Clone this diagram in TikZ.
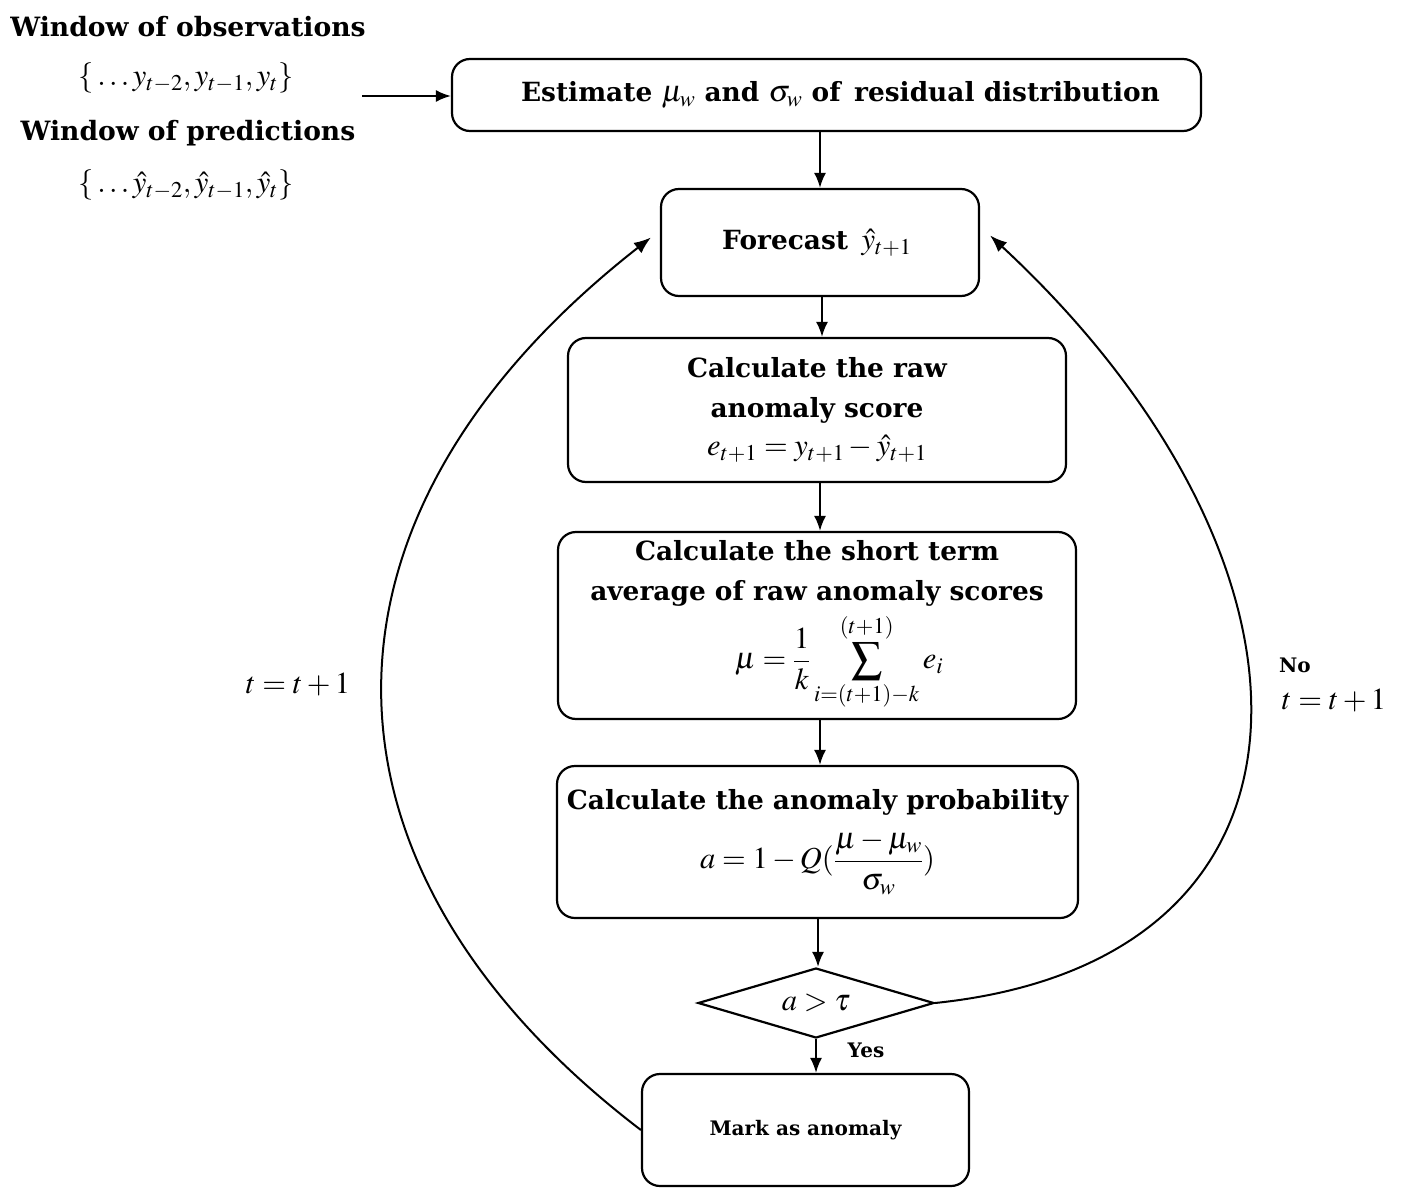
\documentclass[tikz,border=0pt]{standalone}
\usepackage{mathptmx}
\usepackage{fontspec}
\setmainfont{DejaVu Serif}
\usetikzlibrary{shapes.geometric,arrows.meta,calc}
\newcommand{\mfs}{\fontsize{30.5}{36}\selectfont}
\begin{document}
\begin{tikzpicture}[x=1pt,y=-1pt,
  box/.style={draw, line width=2.2pt, rounded corners=18pt, inner sep=0pt, align=center,
    font=\bfseries\fontsize{26.4}{40}\selectfont},
  lbl/.style={inner sep=0pt, align=center, font=\bfseries\fontsize{26.6}{40}\selectfont},
  mth/.style={inner sep=0pt, font=\mfs},
  small/.style={inner sep=0pt, font=\bfseries\fontsize{20}{28}\selectfont},
  arr/.style={-{Latex[length=15pt,width=12pt]}, line width=2pt},
  loop/.style={-{Latex[length=17pt,width=13pt]}, line width=2pt}]
\useasboundingbox (0,0) rectangle (1422,1204);

\node[lbl] (wo) at (188,27) {Window of observations};
\node[mth] (yo) at (186,78) {$\{\,.\,.\,.\,y_{t-2}, y_{t-1}, y_t\}$};
\node[lbl] (wp) at (188,133) {Window of predictions};
\node[mth] (yp) at (186,185) {$\{\,.\,.\,.\,\hat{y}_{t-2}, \hat{y}_{t-1}, \hat{y}_t\}$};
\coordinate (in) at (362,96);

\node[box, minimum width=749pt, minimum height=72pt] (B1) at (826.5,95)
  {\hspace*{28pt}Estimate {\mfs$\mu_w$} and {\mfs$\sigma_w$} of\, residual distribution};
\node[box, minimum width=318pt, minimum height=107pt] (B2) at (820,242.5)
  {Forecast\, {\mfs$\hat{y}_{t+1}$}\hspace*{6pt}};
\node[box, minimum width=498pt, minimum height=144pt] (B3) at (817,410)
  {Calculate the raw\\anomaly score\\[-2pt]{\mfs$e_{t+1} = y_{t+1} - \hat{y}_{t+1}$}};
\node[box, minimum width=518pt, minimum height=187pt] (B4) at (817,625.5)
  {Calculate the short term\\average of raw anomaly scores\\[6pt]
   \hspace*{44pt}{\mfs$\displaystyle \mu = \frac{1}{k}\sum_{i=(t+1)-k}^{(t+1)} e_i$}};
\node[box, minimum width=521pt, minimum height=152pt] (B5) at (817.5,842)
  {Calculate the anomaly probability\\[14pt]
   {\mfs$\displaystyle a = 1 - Q(\frac{\mu-\mu_w}{\sigma_w})$}};
\node[draw, diamond, aspect=3.37, minimum width=236pt, minimum height=70pt, inner sep=0pt,
  line width=2.2pt, font=\mfs] (D) at (816,1003) {$a > \tau$};
\node[box, minimum width=327pt, minimum height=112pt,
  font=\bfseries\fontsize{20}{28}\selectfont] (B6) at (805.5,1130) {Mark as anomaly};

\node[mth] (tl) at (298,685) {$t = t + 1$};
\node[small] (no) at (1295,665) {No};
\node[mth] (tr) at (1334,701) {$t = t + 1$};
\node[small] (yes) at (866,1050) {Yes};

\draw[arr] (in) -- (in -| B1.west);
\draw[arr] (B1.south -| B2.north) -- (B2.north);
\draw[arr] (B2.south -| 822,0) -- (B3.north -| 822,0);
\draw[arr] (B3.south -| 820,0) -- (B4.north -| 820,0);
\draw[arr] (B4.south -| 820,0) -- (B5.north -| 820,0);
\draw[arr] (B5.south -| 818,0) -- (D.north -| 818,0);
\draw[arr] (D.south) -- (D.south |- B6.north);

\draw[loop] (B6.west) .. controls (300,870) and (290,520) .. ($(B2.west)+(-9,-5)$);
\draw[loop] (D.east) .. controls (1350,960) and (1340,560) .. ($(B2.east)+(10,-7)$);
\end{tikzpicture}
\end{document}
